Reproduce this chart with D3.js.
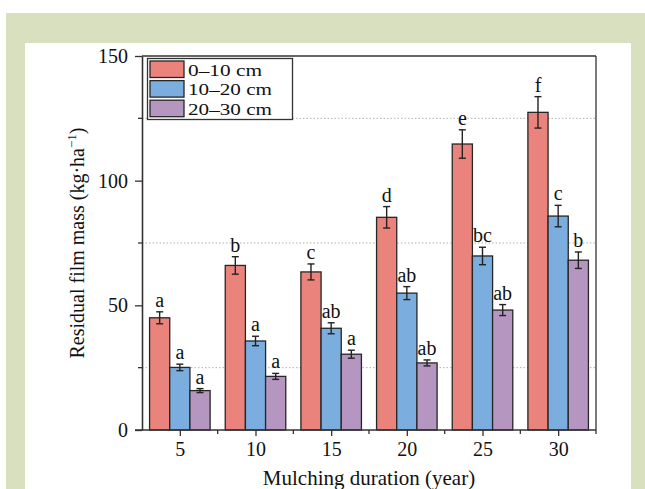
<!DOCTYPE html>
<html>
<head>
<meta charset="utf-8">
<script src="https://cdn.jsdelivr.net/npm/d3@7"></script>
<style>
  body { margin: 0; background: #fff; }
  svg { display: block; font-family: "Liberation Serif", "DejaVu Serif", serif; }
</style>
</head>
<body>
<svg id="chart" width="645" height="489"></svg>
<script>
const years = [5, 10, 15, 20, 25, 30]
const depths = ["0–10 cm", "10–20 cm", "20–30 cm"]
const colors = ["#e9837b", "#7badde", "#b596c1"]

const mass0 = [45.0, 66.0, 63.4, 85.3, 114.7, 127.4]
const mass1 = [25.1, 35.7, 40.8, 54.9, 69.8, 85.8]
const mass2 = [15.8, 21.5, 30.4, 26.9, 48.1, 68.1]
const err0 = [2.4, 3.5, 3.2, 4.3, 5.7, 6.3]
const err1 = [1.3, 1.9, 2.2, 2.6, 3.5, 4.3]
const err2 = [0.8, 1.2, 1.6, 1.2, 2.2, 3.3]
const sig0 = ["a", "b", "c", "d", "e", "f"]
const sig1 = ["a", "a", "ab", "ab", "bc", "c"]
const sig2 = ["a", "a", "a", "ab", "ab", "b"]

const yMajor = [0, 50, 100, 150]
const yMinor = [25, 75, 125]
const xMinor = [7.5, 12.5, 17.5, 22.5, 27.5, 32.5]

const series = [
  { vals: mass0, errs: err0, sig: sig0 },
  { vals: mass1, errs: err1, sig: sig1 },
  { vals: mass2, errs: err2, sig: sig2 },
]

const svg = d3.select("#chart")

// page background: green card with white panel
svg.append("rect").attr("width", 645).attr("height", 489).attr("fill", "#fff")
svg.append("rect").attr("x", 6).attr("y", 13).attr("width", 639).attr("height", 476).attr("fill", "#d9e0bf")
svg.append("rect").attr("x", 25).attr("y", 43).attr("width", 606).attr("height", 446).attr("fill", "#fff")

const pL = 142, pR = 596, pT = 56, pB = 430

const x = d3.scaleLinear().domain([2.5, 32.5]).range([pL, pR])
const y = d3.scaleLinear().domain([0, 150]).range([pB, pT])
const barW = x(2.5 + 4 / 3) - x(2.5)

// dotted grid at minor ticks
svg.append("g")
  .selectAll("line")
  .data(yMinor)
  .join("line")
  .attr("x1", pL).attr("x2", pR)
  .attr("y1", (d) => y(d)).attr("y2", (d) => y(d))
  .attr("stroke", "#b0b0b0")
  .attr("stroke-width", 1)
  .attr("stroke-dasharray", "1.5,2")

// bars
const plot = svg.append("g")
series.forEach((s, i) => {
  const g = plot.append("g")
  const cx = (yr) => x(yr) + (i - 1) * barW
  g.selectAll("rect")
    .data(years)
    .join("rect")
    .attr("x", (d) => cx(d) - barW / 2)
    .attr("y", (d, j) => y(s.vals[j]))
    .attr("width", barW)
    .attr("height", (d, j) => pB - y(s.vals[j]))
    .attr("fill", colors[i])
    .attr("stroke", "#262626")
    .attr("stroke-width", 1.3)

  // error bars
  const eb = g.selectAll("g.err").data(years).join("g").attr("class", "err")
  eb.append("line")
    .attr("x1", (d) => cx(d)).attr("x2", (d) => cx(d))
    .attr("y1", (d, j) => y(s.vals[j] - s.errs[j]))
    .attr("y2", (d, j) => y(s.vals[j] + s.errs[j]))
  eb.append("line")
    .attr("x1", (d) => cx(d) - 3.5).attr("x2", (d) => cx(d) + 3.5)
    .attr("y1", (d, j) => y(s.vals[j] + s.errs[j]))
    .attr("y2", (d, j) => y(s.vals[j] + s.errs[j]))
  eb.append("line")
    .attr("x1", (d) => cx(d) - 3.5).attr("x2", (d) => cx(d) + 3.5)
    .attr("y1", (d, j) => y(s.vals[j] - s.errs[j]))
    .attr("y2", (d, j) => y(s.vals[j] - s.errs[j]))
  eb.selectAll("line").attr("stroke", "#222").attr("stroke-width", 1.4)

  // significance letters
  g.selectAll("text")
    .data(years)
    .join("text")
    .attr("x", (d) => cx(d))
    .attr("y", (d, j) => y(s.vals[j] + s.errs[j]) - 5)
    .attr("text-anchor", "middle")
    .attr("font-size", 20)
    .attr("fill", "#111")
    .text((d, j) => s.sig[j])
})

// frame (top + right)
svg.append("line").attr("x1", pL).attr("x2", pR).attr("y1", pT).attr("y2", pT)
  .attr("stroke", "#333").attr("stroke-width", 1.3)
svg.append("line").attr("x1", pR).attr("x2", pR).attr("y1", pT).attr("y2", pB)
  .attr("stroke", "#333").attr("stroke-width", 1.3)

// y axis
const yAxis = svg.append("g").attr("transform", `translate(${pL},0)`)
  .call(d3.axisLeft(y).tickValues(yMajor).tickSize(7).tickPadding(7).tickSizeOuter(0))
yAxis.append("g").selectAll("line").data(yMinor).join("line")
  .attr("x1", -4).attr("x2", 0).attr("y1", (d) => y(d)).attr("y2", (d) => y(d))
  .attr("stroke", "#333").attr("stroke-width", 1.3)

// x axis
const xAxis = svg.append("g").attr("transform", `translate(0,${pB})`)
  .call(d3.axisBottom(x).tickValues(years).tickSize(6).tickPadding(6).tickSizeOuter(0))
xAxis.append("g").selectAll("line").data(xMinor).join("line")
  .attr("x1", (d) => x(d)).attr("x2", (d) => x(d)).attr("y1", 0).attr("y2", 4)
  .attr("stroke", "#333").attr("stroke-width", 1.3)

for (const ax of [xAxis, yAxis]) {
  ax.select(".domain").attr("stroke", "#333").attr("stroke-width", 1.6)
  ax.selectAll(".tick line").attr("stroke", "#333").attr("stroke-width", 1.3)
  ax.selectAll(".tick text").attr("font-size", 20).attr("fill", "#111")
    .attr("font-family", "Liberation Serif, serif")
}
// extend x axis line left to meet y tick
xAxis.select(".domain").attr("d", `M${pL - 7},0H${pR}`)

// axis titles
svg.append("text")
  .attr("x", (pL + pR) / 2).attr("y", 485)
  .attr("text-anchor", "middle").attr("font-size", 21).attr("fill", "#111")
  .text("Mulching duration (year)")

const yt = svg.append("text")
  .attr("transform", `translate(84,${(pT + pB) / 2}) rotate(-90)`)
  .attr("text-anchor", "middle").attr("font-size", 20).attr("fill", "#111")
yt.append("tspan").text("Residual film mass (kg·ha")
yt.append("tspan").attr("font-size", 13).attr("dy", -8).text("−1")
yt.append("tspan").attr("dy", 8).text(")")

// legend
const lg = svg.append("g")
lg.append("rect").attr("x", 147.5).attr("y", 58.5).attr("width", 145).attr("height", 61)
  .attr("fill", "#fff").attr("stroke", "#333").attr("stroke-width", 1.3)
const rows = lg.selectAll("g.row").data(depths).join("g").attr("class", "row")
  .attr("transform", (d, i) => `translate(150,${61 + i * 19.6})`)
rows.append("rect").attr("width", 34).attr("height", 16.5)
  .attr("fill", (d, i) => colors[i]).attr("stroke", "#262626").attr("stroke-width", 1.3)
rows.append("text").attr("x", 38).attr("y", 14.5)
  .attr("font-size", 17.5).attr("fill", "#111")
  .attr("textLength", (d, i) => (i === 0 ? 74 : 84))
  .attr("lengthAdjust", "spacingAndGlyphs")
  .text((d) => d)
</script>
</body>
</html>
